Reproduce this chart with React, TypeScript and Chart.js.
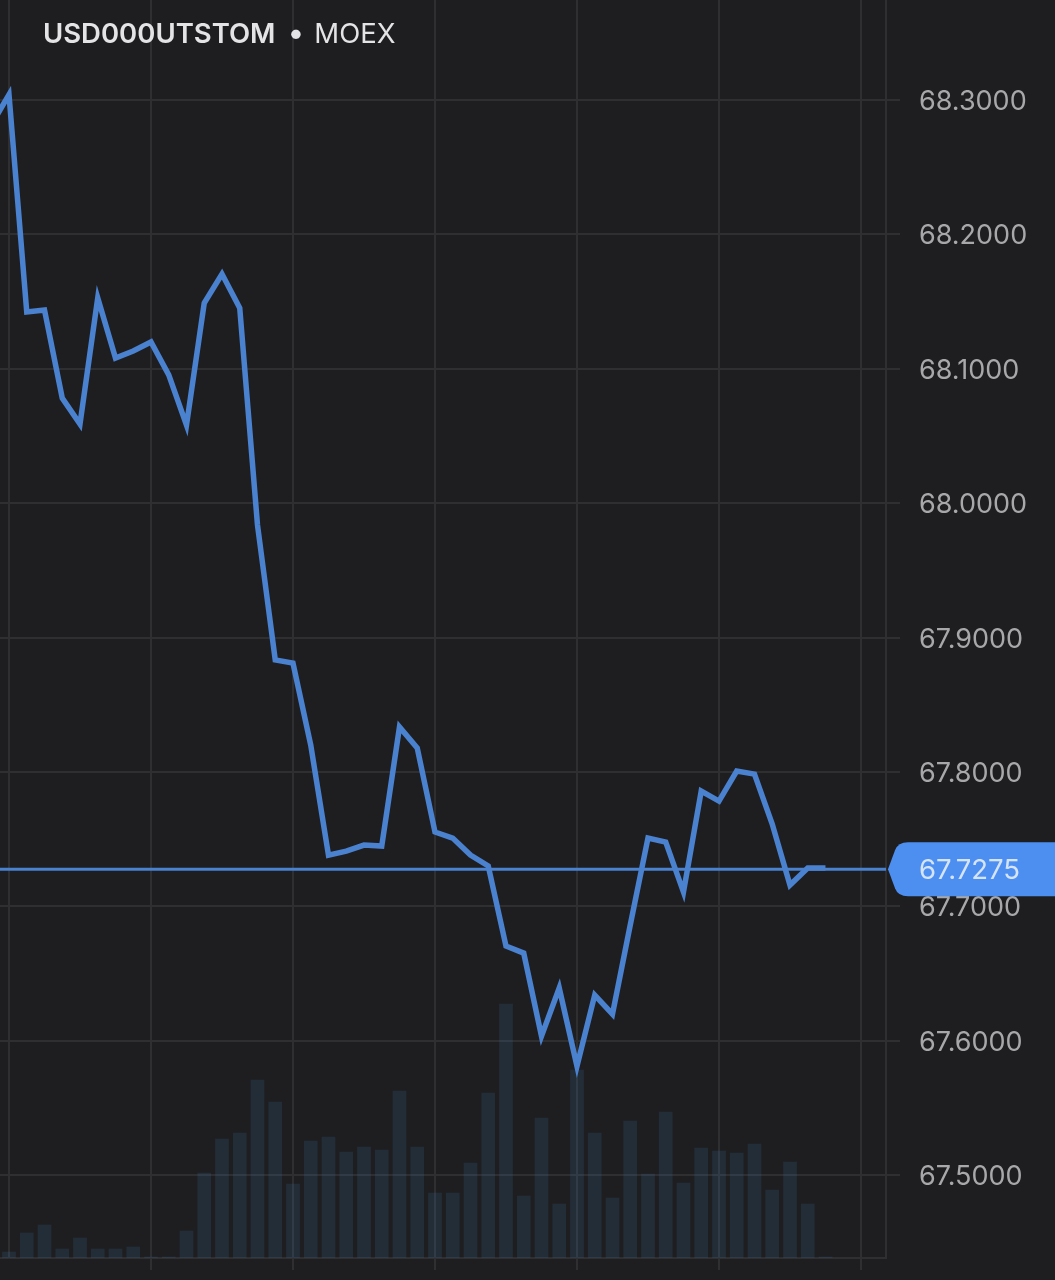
import React, { useEffect, useRef } from 'react';
import { Chart, registerables } from 'chart.js';

Chart.register(...registerables);

const symbol = 'USD000UTSTOM';
const exchange = 'MOEX';
const lastPrice = 67.7275;
const priceTicks = [67.5, 67.6, 67.7, 67.8, 67.9, 68.0, 68.1, 68.2, 68.3];
const timeTicks = [0, 8, 16, 24, 32, 40, 48];

// first price sits one bar before the left edge, so index = position - 1
const prices = [
  68.2814, 68.304, 68.1422, 68.1437, 68.0782, 68.0589, 68.1527, 68.108, 68.1132, 68.1199,
  68.0954, 68.0581, 68.1489, 68.1705, 68.1452, 67.9837, 67.8833, 67.881, 67.82, 67.7381,
  67.7411, 67.7456, 67.7448, 67.8334, 67.8178, 67.7553, 67.7508, 67.7381, 67.73, 67.6704,
  67.6652, 67.6034, 67.6392, 67.5811, 67.634, 67.6198, 67.686, 67.7508, 67.7478, 67.7106,
  67.7858, 67.7783, 67.8007, 67.7984, 67.7612, 67.7158, 67.7285, 67.7285,
];

const volumes = [
  6, 25, 33, 9, 20, 9, 9, 11, 1, 1, 27, 85, 119, 125, 178, 156, 74, 117, 121, 106, 111, 108, 167,
  111, 65, 65, 95, 165, 254, 62, 140, 54, 188, 125, 60, 137, 84, 146, 75, 110, 107, 105, 114, 68,
  96, 54, 1,
];

const BG = '#1e1e20';
const GRID = '#2f2f31';
const BLUE = '#4a82d0';

const lastPriceBadge = {
  id: 'lastPriceBadge',
  afterDraw(chart: any) {
    const { ctx, chartArea, width } = chart;
    const y = chart.scales.y.getPixelForValue(lastPrice);
    const left = chartArea.right + 2;
    const h = 27;
    ctx.save();
    ctx.fillStyle = '#4d8ff0';
    ctx.beginPath();
    ctx.moveTo(left, y);
    ctx.lineTo(left + 7, y - h + 8);
    ctx.quadraticCurveTo(left + 10, y - h, left + 20, y - h);
    ctx.lineTo(width, y - h);
    ctx.lineTo(width, y + h);
    ctx.lineTo(left + 20, y + h);
    ctx.quadraticCurveTo(left + 10, y + h, left + 7, y + h - 8);
    ctx.closePath();
    ctx.fill();
    ctx.fillStyle = '#d5e4fb';
    ctx.font = '27.5px Inter';
    ctx.textBaseline = 'middle';
    ctx.textAlign = 'left';
    ctx.fillText(lastPrice.toFixed(4), 919, y + 1);
    ctx.restore();
  },
};

const App: React.FC = () => {
  const chartRef = useRef<HTMLCanvasElement>(null);

  useEffect(() => {
    if (!chartRef.current) return;
    const xMin = -0.507;
    const xMax = 49.41;

    const chart = new Chart(chartRef.current, {
      type: 'bar',
      data: {
        datasets: [
          {
            type: 'bar',
            label: 'Volume',
            data: volumes.map((v, i) => ({ x: i, y: v })) as any,
            yAxisID: 'vol',
            backgroundColor: 'rgba(60, 125, 185, 0.16)',
            barThickness: 13,
            order: 3,
          },
          {
            type: 'line',
            label: 'Last',
            data: [{ x: xMin, y: lastPrice }, { x: xMax, y: lastPrice }],
            yAxisID: 'y',
            borderColor: BLUE,
            borderWidth: 3,
            pointRadius: 0,
            order: 2,
          },
          {
            type: 'line',
            label: 'Price',
            data: prices.map((p, i) => ({ x: i - 1, y: p })),
            yAxisID: 'y',
            borderColor: BLUE,
            borderWidth: 5.5,
            borderJoinStyle: 'miter',
            pointRadius: 0,
            tension: 0,
            order: 1,
          },
        ],
      },
      options: {
        responsive: false,
        animation: false,
        layout: { padding: { bottom: 10 } },
        plugins: { legend: { display: false }, tooltip: { enabled: false } },
        scales: {
          x: {
            type: 'linear',
            offset: false,
            min: xMin,
            max: xMax,
            afterBuildTicks: (axis: any) => {
              axis.ticks = timeTicks.map((value) => ({ value }));
            },
            ticks: { display: false },
            grid: {
              offset: false,
              color: GRID,
              lineWidth: 2,
              tickLength: 12,
              tickColor: (c: any) => (c.tick && c.tick.value === 0 ? 'transparent' : GRID),
            },
            border: { color: GRID, width: 2 },
          },
          y: {
            position: 'right',
            min: 67.4383,
            max: 68.3744,
            afterBuildTicks: (axis: any) => {
              axis.ticks = priceTicks.map((value) => ({ value }));
            },
            afterFit: (axis: any) => {
              axis.width = 169;
              axis.paddingTop = 0;
              axis.paddingBottom = 0;
            },
            ticks: {
              color: '#a8a8ab',
              padding: 19,
              labelOffset: 2,
              font: { family: 'Inter', size: 27 },
              callback: (v: any) => Number(v).toFixed(4),
            },
            grid: { color: GRID, lineWidth: 2, tickLength: 14 },
            border: { color: GRID, width: 2 },
          },
          vol: {
            display: false,
            min: 0,
            max: 1258,
          },
        },
      },
      plugins: [lastPriceBadge],
    });

    return () => {
      chart.destroy();
    };
  }, []);

  return (
    <div style={{ position: 'absolute', left: 0, top: 0, width: 1055, height: 1280, background: BG, overflow: 'hidden' }}>
      <canvas ref={chartRef} width={1055} height={1280} style={{ display: 'block' }} />
      <div
        style={{
          position: 'absolute',
          left: 43,
          top: 15,
          fontFamily: 'Inter',
          fontSize: 27.5,
          lineHeight: '34px',
          whiteSpace: 'nowrap',
          color: '#e4e4e6',
        }}
      >
        <span style={{ fontWeight: 600 }}>{symbol}</span>
        <span style={{ margin: '0 10px 0 12px', fontSize: 30 }}>•</span>
        <span style={{ fontWeight: 400 }}>{exchange}</span>
      </div>
    </div>
  );
};

export default App;
